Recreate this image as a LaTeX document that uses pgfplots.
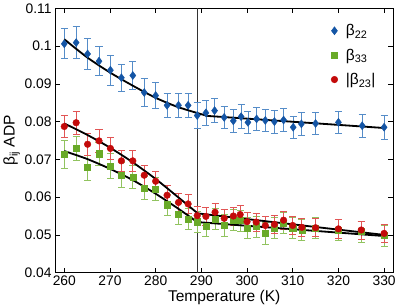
\documentclass[border=0pt]{standalone}
\usepackage{fontspec}
\setmainfont{Liberation Sans}
\usepackage{pgfplots}
\pgfplotsset{compat=1.18}
\definecolor{cblue}{RGB}{20,85,165}
\definecolor{cblueE}{RGB}{85,140,200}
\definecolor{cgreen}{RGB}{105,170,40}
\definecolor{cgreenE}{RGB}{145,195,95}
\definecolor{cred}{RGB}{195,10,10}
\definecolor{credE}{RGB}{225,85,85}
\begin{document}
\begin{tikzpicture}
\begin{axis}[
  scale only axis, width=335pt, height=262pt,
  xmin=258, xmax=332, ymin=0.04, ymax=0.11,
  xtick={260,270,280,290,300,310,320,330},
  ytick={0.04,0.05,0.06,0.07,0.08,0.09,0.1,0.11},
  scaled y ticks=false, scaled x ticks=false,
  yticklabel style={/pgf/number format/fixed, /pgf/number format/precision=2},
  /pgf/number format/assume math mode=true,
  tick label style={font=\fontsize{13.7}{15}\selectfont, black},
  label style={font=\fontsize{15.4}{17}\selectfont},
  xlabel={Temperature (K)},
  ylabel={β\textsubscript{ij} ADP},
  xlabel style={yshift=3pt},
  ylabel style={yshift=-2pt},
  tick align=inside, major tick length=5pt,
  axis line style={black, line width=0.8pt},
  every tick/.style={black, line width=0.6pt},
  legend style={at={(0.963,0.955)}, anchor=north east, draw=none, fill=none,
    font=\fontsize{15.4}{17}\selectfont, row sep=7.5pt,
    /tikz/every odd column/.append style={column sep=6pt}},
  legend cell align=left,
  clip=false,
]
% vertical marker line
\addplot[forget plot, black!80, line width=0.8pt] coordinates {(289.1,0.04) (289.1,0.11)};

\addplot[only marks, mark=diamond*, mark size=4pt, color=cblue, mark options={fill=cblue, draw=cblue},
  error bars/.cd, y dir=both, y explicit,
  error bar style={color=cblueE, line width=0.8pt},
  error mark options={rotate=90, mark size=3.5pt, color=cblueE, line width=0.8pt}]
  table[x=T, y=v, y error=e] {
T v e
260 0.1006 0.0040
262.6 0.1009 0.0042
265.1 0.0979 0.0041
267.6 0.0960 0.0039
270.1 0.0936 0.0040
272.5 0.0916 0.0036
275.0 0.0922 0.0036
277.5 0.0877 0.0036
280.0 0.0869 0.0035
282.5 0.0843 0.0032
285.0 0.0843 0.0032
287.1 0.0843 0.0032
289.1 0.0816 0.0035
291.0 0.0823 0.0032
292.9 0.0829 0.0032
295.0 0.0811 0.0030
297.0 0.0802 0.0030
298.7 0.0813 0.0032
300.2 0.0798 0.0030
302.1 0.0807 0.0030
304.0 0.0803 0.0030
306.0 0.0800 0.0030
308.0 0.0804 0.0030
310.1 0.0785 0.0030
311.9 0.0794 0.0030
315.0 0.0795 0.0030
320.0 0.0798 0.0030
325.2 0.0789 0.0030
330.0 0.0785 0.0032
};
\addlegendentry{β\textsubscript{22}}

\addplot[only marks, mark=square*, mark size=3pt, color=cgreen, mark options={fill=cgreen, draw=cgreen},
  error bars/.cd, y dir=both, y explicit,
  error bar style={color=cgreenE, line width=0.8pt},
  error mark options={rotate=90, mark size=3.5pt, color=cgreenE, line width=0.8pt}]
  table[x=T, y=v, y error=e] {
T v e
260 0.0713 0.0036
262.6 0.0729 0.0033
265.1 0.0678 0.0033
267.6 0.0715 0.0030
270.1 0.0682 0.0033
272.5 0.0658 0.0033
275.0 0.0653 0.0031
277.5 0.0624 0.0030
280.0 0.0622 0.0030
282.5 0.0580 0.0028
285.0 0.0555 0.0028
287.1 0.0542 0.0028
289.1 0.0535 0.0028
291.0 0.0523 0.0028
293.0 0.0542 0.0028
295.0 0.0525 0.0028
297.0 0.0540 0.0028
298.5 0.0538 0.0028
300.0 0.0518 0.0028
302.0 0.0522 0.0028
304.0 0.0504 0.0028
306.0 0.0518 0.0028
308.0 0.0531 0.0028
310.0 0.0518 0.0028
312.0 0.0513 0.0028
315.0 0.0518 0.0028
320.0 0.0513 0.0028
325.0 0.0509 0.0028
330.0 0.0498 0.0028
};
\addlegendentry{β\textsubscript{33}}

\addplot[only marks, mark=*, mark size=3.3pt, color=cred, mark options={fill=cred, draw=cred},
  error bars/.cd, y dir=both, y explicit,
  error bar style={color=credE, line width=0.8pt},
  error mark options={rotate=90, mark size=3.5pt, color=credE, line width=0.8pt}]
  table[x=T, y=v, y error=e] {
T v e
260 0.0787 0.0029
262.6 0.0797 0.0031
265.1 0.0740 0.0030
267.6 0.0749 0.0030
270.1 0.0729 0.0030
272.5 0.0696 0.0028
275.0 0.0696 0.0028
277.5 0.0658 0.0026
280.0 0.0642 0.0026
282.5 0.0605 0.0026
285.0 0.0586 0.0024
287.1 0.0582 0.0024
289.1 0.0551 0.0024
291.0 0.0549 0.0024
293.0 0.0560 0.0024
295.0 0.0544 0.0024
297.0 0.0550 0.0024
298.5 0.0554 0.0024
300.0 0.0535 0.0024
302.0 0.0534 0.0024
304.0 0.0525 0.0024
306.0 0.0528 0.0024
308.0 0.0539 0.0024
310.0 0.0525 0.0024
312.0 0.0520 0.0024
315.0 0.0519 0.0024
320.0 0.0516 0.0024
325.0 0.0513 0.0024
330.0 0.0504 0.0024
};
\addlegendentry{|β\textsubscript{23}|}

% fit lines
\addplot[forget plot, black, line width=1.8pt, smooth] coordinates {
(260,0.1018) (265,0.0970) (270,0.0930) (275,0.0895) (280,0.0863) (285,0.0838) (291.3,0.0815)};
\addplot[forget plot, black, line width=1.8pt] coordinates {(291.3,0.0815) (330,0.0783)};
\addplot[forget plot, black, line width=1.8pt, smooth] coordinates {
(260,0.0795) (265,0.0765) (270,0.0731) (275,0.0692) (280,0.0648) (285,0.0599) (289.2,0.0557)};
\addplot[forget plot, black, line width=1.8pt] coordinates {(289.2,0.0557) (330,0.0500)};
\addplot[forget plot, black, line width=1.8pt, smooth] coordinates {
(260,0.0722) (265,0.0701) (270,0.0675) (275,0.0645) (280,0.0609) (285,0.0569) (289.1,0.0534)};
\addplot[forget plot, black, line width=1.8pt] coordinates {(289.1,0.0534) (330,0.0497)};
\end{axis}
\end{tikzpicture}
\end{document}
